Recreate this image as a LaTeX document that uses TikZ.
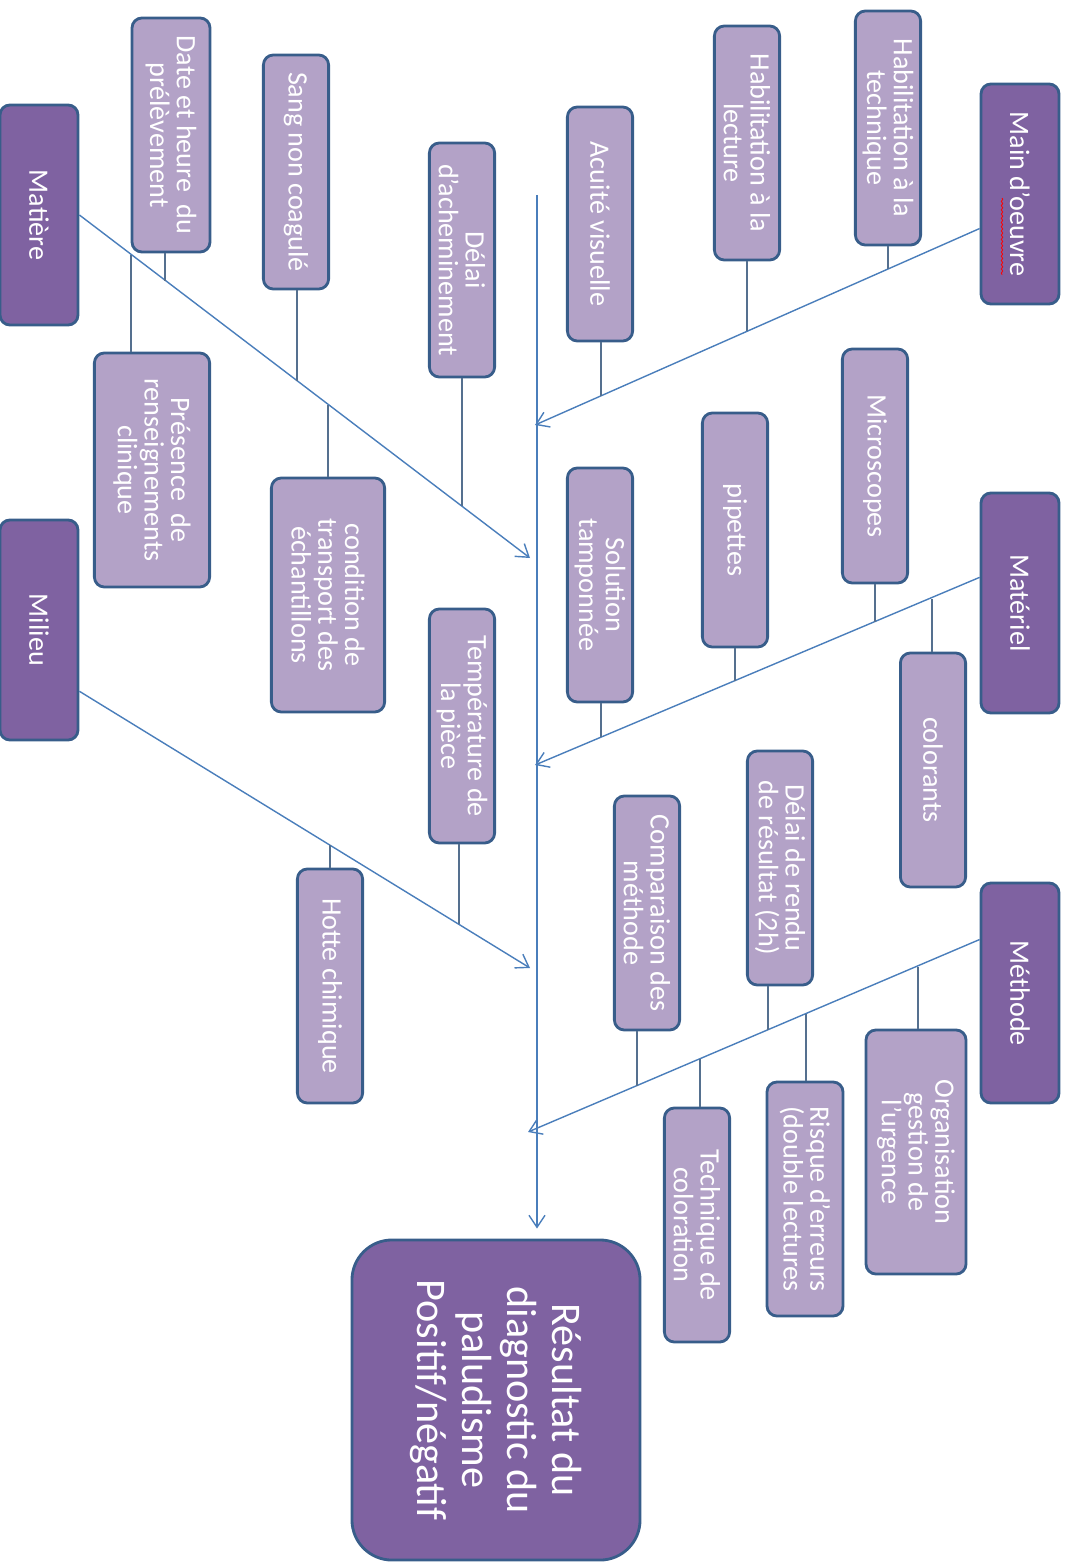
\documentclass[tikz,border=0pt]{standalone}
\usepackage{xcolor}
\usepackage{fontspec}
\setmainfont{Carlito}
\usetikzlibrary{arrows.meta,calc,decorations.pathmorphing}
\definecolor{causefill}{HTML}{7F62A1}
\definecolor{detailfill}{HTML}{B3A2C7}
\definecolor{outline}{HTML}{385D8A}
\definecolor{bone}{HTML}{4A7EBB}
\definecolor{twig}{HTML}{55708F}
\tikzstyle{box}=[rotate=-90, draw=outline, line width=2pt, rounded corners=0.25cm, text=white, align=center, inner sep=0pt]
\tikzstyle{cause}=[box, fill=causefill, minimum width=5.5cm, minimum height=1.95cm, font=\fontsize{20}{19}\selectfont]
\tikzstyle{detail}=[box, fill=detailfill, minimum width=5.85cm, minimum height=1.63cm, font=\fontsize{20}{19}\selectfont]
\tikzstyle{result}=[box, fill=causefill, minimum width=8cm, minimum height=7.2cm, rounded corners=1cm, font=\fontsize{30}{32}\selectfont]

\begin{document}
\begin{tikzpicture}[x=0.025cm,y=-0.025cm]
  \useasboundingbox (0,0) rectangle (1064,1562);

  %% Causes
  \draw (39,215) node[cause] (C1) {Matière};
  \draw (1020,194) node[cause] (C2) {Main d’oeuvre};
  \draw (39,630) node[cause] (C3) {Milieu};
  \draw (1020,603) node[cause] (C4) {Matériel};
  \draw (1020,993) node[cause] (C5) {Méthode};

  \draw (496,1400) node[result] (R) {Résultat du\\diagnostic du\\paludisme\\Positif/négatif};

  %% Matiere
  \draw (171,135) node[detail, minimum height=1.95cm] (S11) {Date et heure \ du\\prélèvement};
  \draw (152,470) node[detail, minimum height=2.88cm] (S12) {Présence \ de\\renseignements\\clinique};
  \draw (296,172) node[detail] (S13) {Sang non coagulé};
  \draw (328,595) node[detail, minimum height=2.83cm] (S14) {condition de\\transport des\\échantillons};
  \draw (462,260) node[detail] (S15) {Délai\\d’acheminement};

  %% Main d'oeuvre
  \draw (600,224) node[detail] (S21) {Acuité visuelle};
  \draw (747,143) node[detail] (S22) {Habilitation à la\\lecture};
  \draw (888,128) node[detail] (S23) {Habilitation à la\\technique};

  %% Milieu
  \draw (330,986) node[detail] (S31) {Hotte chimique};
  \draw (462,726) node[detail] (S32) {Température de\\la pièce};

  %% Materiel
  \draw (875,466) node[detail] (S41) {Microscopes};
  \draw (933,770) node[detail] (S42) {colorants};
  \draw (735,530) node[detail] (S43) {pipettes};
  \draw (600,585) node[detail] (S44) {Solution\\tamponnée};

  %% Methode
  \draw (916,1152) node[detail, minimum width=6.1cm, minimum height=2.5cm] (S51) {Organisation\\gestion de\\l’urgence};
  \draw (780,868) node[detail] (S52) {Délai de rendu\\de résultat (2h)};
  \draw (805,1199) node[detail, minimum height=1.9cm] (S53) {Risque d’erreurs\\(double lectures};
  \draw (647,913) node[detail] (S54) {Comparaison des\\méthode};
  \draw (697,1225) node[detail] (S55) {Technique de\\coloration};

  %% spell check mark
  \draw[red, line width=0.6pt, decorate, decoration={snake, amplitude=0.5pt, segment length=3pt}] (1002,198) -- (1002,275);

  %% Spine and bones
  \coordinate (A0) at (537,195);
  \coordinate (A1) at (535,425);
  \coordinate (A2) at (530,558);
  \coordinate (A3) at (535,765);
  \coordinate (A4) at (530,968);
  \coordinate (A5) at (528,1132);

  \draw[-{Straight Barb[length=3mm,width=4mm]}, line width=1pt, color=bone, shorten >=0.25cm] (A0) -- (A0 |- R.west);
  \draw[-{Straight Barb[length=3mm,width=4mm]}, line width=1pt, color=bone] (C1.north) -- (A2);
  \draw[-{Straight Barb[length=3mm,width=4mm]}, line width=1pt, color=bone] ($(C2.south)!.31!(C2.south east)$) -- (A1);
  \draw[-{Straight Barb[length=3mm,width=4mm]}, line width=1pt, color=bone] ($(C3.north)!.55!(C3.north east)$) -- (A4);
  \draw[-{Straight Barb[length=3mm,width=4mm]}, line width=1pt, color=bone] ($(C4.south)!.23!(C4.south west)$) -- (A3);
  \draw[-{Straight Barb[length=3mm,width=4mm]}, line width=1pt, color=bone] ($(C5.south)!.48!(C5.south west)$) -- (A5);

  %% Ticks
  \coordinate (T11) at (165,281);
  \coordinate (T12) at (131,255);
  \coordinate (T13) at (297,381);
  \coordinate (T14) at (328,405);
  \coordinate (T15) at (462,506);
  \coordinate (T21) at (601,396);
  \coordinate (T22) at (747,331);
  \coordinate (T23) at (888,269);
  \coordinate (T31) at (330,845);
  \coordinate (T32) at (459,924);
  \coordinate (T41) at (875,622);
  \coordinate (T42) at (932,599);
  \coordinate (T43) at (735,681);
  \coordinate (T44) at (601,737);
  \coordinate (T51) at (918,967);
  \coordinate (T52) at (768,1030);
  \coordinate (T53) at (806,1014);
  \coordinate (T54) at (637,1086);
  \coordinate (T55) at (700,1059);

  \draw[line width=0.8pt, color=twig] (T11) -- (T11 |- S11.east);
  \draw[line width=0.8pt, color=twig] (T12) -- (T12 |- S12.west);
  \draw[line width=0.8pt, color=twig] (T13) -- (T13 |- S13.east);
  \draw[line width=0.8pt, color=twig] (T14) -- (T14 |- S14.west);
  \draw[line width=0.8pt, color=twig] (T15) -- (T15 |- S15.east);
  \draw[line width=0.8pt, color=twig] (T21) -- (T21 |- S21.east);
  \draw[line width=0.8pt, color=twig] (T22) -- (T22 |- S22.east);
  \draw[line width=0.8pt, color=twig] (T23) -- (T23 |- S23.east);
  \draw[line width=0.8pt, color=twig] (T31) -- (T31 |- S31.west);
  \draw[line width=0.8pt, color=twig] (T32) -- (T32 |- S32.east);
  \draw[line width=0.8pt, color=twig] (T41) -- (T41 |- S41.east);
  \draw[line width=0.8pt, color=twig] (T42) -- (T42 |- S42.west);
  \draw[line width=0.8pt, color=twig] (T43) -- (T43 |- S43.east);
  \draw[line width=0.8pt, color=twig] (T44) -- (T44 |- S44.east);
  \draw[line width=0.8pt, color=twig] (T51) -- (T51 |- S51.west);
  \draw[line width=0.8pt, color=twig] (T52) -- (T52 |- S52.east);
  \draw[line width=0.8pt, color=twig] (T53) -- (T53 |- S53.west);
  \draw[line width=0.8pt, color=twig] (T54) -- (T54 |- S54.east);
  \draw[line width=0.8pt, color=twig] (T55) -- (T55 |- S55.west);
\end{tikzpicture}
\end{document}
